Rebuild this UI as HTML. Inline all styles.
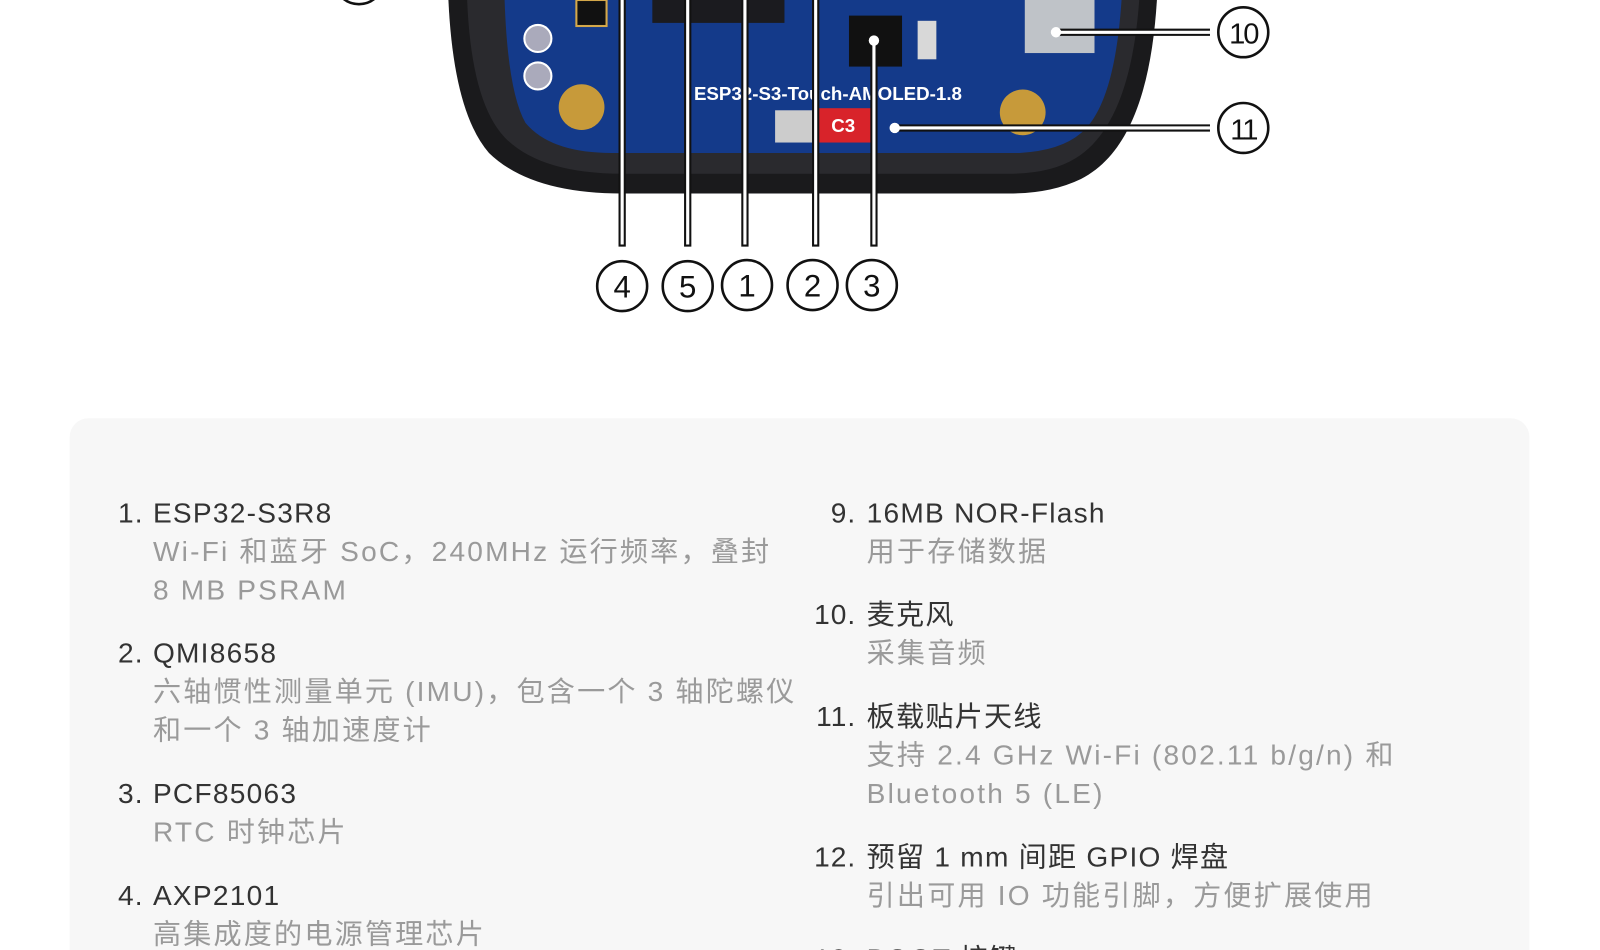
<!DOCTYPE html>
<html><head><meta charset="utf-8"><style>
html,body{margin:0;padding:0;background:#fff;width:1600px;height:950px;overflow:hidden;position:relative;font-family:"Liberation Sans","Noto Sans CJK SC",sans-serif}
#w{position:absolute;left:0;top:0;width:1600px;height:950px;transform:scale(1.0404);transform-origin:0 0}
.card{position:absolute;left:67px;top:402px;width:1403px;height:600px;background:#f7f7f7;border-radius:18px}
.l{position:absolute;height:38px;line-height:38px;font-size:27px;white-space:nowrap}
.t{color:#333;letter-spacing:1.2px}
.d{color:#9a9a9a;letter-spacing:2.1px}
.n{color:#333;text-align:right;width:60px;letter-spacing:1px}
</style></head><body><div id="w">
<svg width="1600" height="320" style="position:absolute;left:0;top:0">
  <circle cx="345" cy="-20" r="24" fill="#fff" stroke="#111" stroke-width="2.5"/>
  <path d="M431 0 L1112 0 C1107 80 1088 147 1039 172 Q1010 186 970 186 L598 186 Q510 186 470 147 Q436 108 431 0 Z" fill="#1a1a1c"/>
  <path d="M449 0 L1095 0 C1090 70 1073 128 1034 152 Q1010 167 970 167 L598 167 Q519 167 485 132 Q453 98 449 0 Z" fill="#2a2a2e"/>
  <path d="M485 0 L1078 0 C1074 60 1063 108 1039 128 Q1019 145 980 147 L588 147 Q529 147 505 118 Q488 88 485 0 Z" fill="#143a8a"/>
  <rect x="627" y="0" width="127" height="22" fill="#1b1b1f"/>
  <rect x="816" y="15" width="51" height="49" fill="#111"/>
  <rect x="985" y="0" width="67" height="51" fill="#bfc3c8"/>
  <rect x="882" y="20" width="18" height="37" fill="#d8d8d8"/>
  <circle cx="559" cy="103" r="22" fill="#c79a3a"/><circle cx="983" cy="108" r="22" fill="#c79a3a"/>
  <circle cx="517" cy="37" r="13" fill="#aab" stroke="#fff" stroke-width="2"/>
  <circle cx="517" cy="73" r="13" fill="#aab" stroke="#fff" stroke-width="2"/>
  <rect x="554" y="0" width="29" height="25" fill="#111" stroke="#d4a84a" stroke-width="2"/>
  <rect x="745" y="106" width="39" height="31" fill="#ccc"/>
  <rect x="784" y="104" width="59" height="33" fill="#d8232a"/>
  <text x="799" y="127" font-size="18" fill="#fff" font-weight="bold" font-family="Liberation Sans">C3</text>
  <text x="667" y="96" font-size="18" fill="#fff" font-weight="bold" font-family="Liberation Sans">ESP32-S3-Touch-AMOLED-1.8</text>
  <g stroke="#111" stroke-width="7" fill="none">
    <path d="M598 0V237M661 0V237M716 0V237M784 0V237M840 39V237M1015 31H1163M860 123H1163"/>
  </g>
  <g stroke="#fff" stroke-width="3" fill="none">
    <path d="M598 0V235M661 0V235M716 0V235M784 0V235M840 39V235M1015 31H1163M860 123H1163"/>
  </g>
  <circle cx="840" cy="39" r="5" fill="#fff"/><circle cx="1015" cy="31" r="5" fill="#fff"/><circle cx="860" cy="123" r="5" fill="#fff"/>
  <g fill="#fff" stroke="#111" stroke-width="2.5">
    <circle cx="598" cy="275" r="24"/><circle cx="661" cy="275" r="24"/><circle cx="718" cy="274" r="24"/><circle cx="781" cy="274" r="24"/><circle cx="838" cy="274" r="24"/>
    <circle cx="1195" cy="31" r="24"/><circle cx="1195" cy="123" r="24"/>
  </g>
  <g fill="#111" font-family="Liberation Sans" font-size="30" text-anchor="middle">
    <text x="598" y="286">4</text><text x="661" y="286">5</text><text x="718" y="285">1</text><text x="781" y="285">2</text><text x="838" y="285">3</text>
    <text x="1195" y="42" font-size="28" letter-spacing="-2">10</text><text x="1195" y="134" font-size="28" letter-spacing="-2">11</text>
  </g>
</svg>
<div class="card"></div>
<div class="l n" style="left:78px;top:474px">1.</div><div class="l t" style="left:147px;top:474px">ESP32-S3R8</div>
<div class="l d" style="left:147px;top:511px">Wi-Fi 和蓝牙 SoC，240MHz 运行频率，叠封</div>
<div class="l d" style="left:147px;top:548px">8 MB PSRAM</div>
<div class="l n" style="left:78px;top:609px">2.</div><div class="l t" style="left:147px;top:609px">QMI8658</div>
<div class="l d" style="left:147px;top:646px">六轴惯性测量单元 (IMU)，包含一个 3 轴陀螺仪</div>
<div class="l d" style="left:147px;top:683px">和一个 3 轴加速度计</div>
<div class="l n" style="left:78px;top:744px">3.</div><div class="l t" style="left:147px;top:744px">PCF85063</div>
<div class="l d" style="left:147px;top:781px">RTC 时钟芯片</div>
<div class="l n" style="left:78px;top:842px">4.</div><div class="l t" style="left:147px;top:842px">AXP2101</div>
<div class="l d" style="left:147px;top:879px">高集成度的电源管理芯片</div>

<div class="l n" style="left:763px;top:474px">9.</div><div class="l t" style="left:833px;top:474px">16MB NOR-Flash</div>
<div class="l d" style="left:833px;top:511px">用于存储数据</div>
<div class="l n" style="left:763px;top:572px">10.</div><div class="l t" style="left:833px;top:572px">麦克风</div>
<div class="l d" style="left:833px;top:609px">采集音频</div>
<div class="l n" style="left:763px;top:670px">11.</div><div class="l t" style="left:833px;top:670px">板载贴片天线</div>
<div class="l d" style="left:833px;top:707px">支持 2.4 GHz Wi-Fi (802.11 b/g/n) 和</div>
<div class="l d" style="left:833px;top:744px">Bluetooth 5 (LE)</div>
<div class="l n" style="left:763px;top:805px">12.</div><div class="l t" style="left:833px;top:805px">预留 1 mm 间距 GPIO 焊盘</div>
<div class="l d" style="left:833px;top:842px">引出可用 IO 功能引脚，方便扩展使用</div>
<div class="l n" style="left:763px;top:903px">13.</div><div class="l t" style="left:833px;top:903px">BOOT 按键</div>
</div></body></html>
